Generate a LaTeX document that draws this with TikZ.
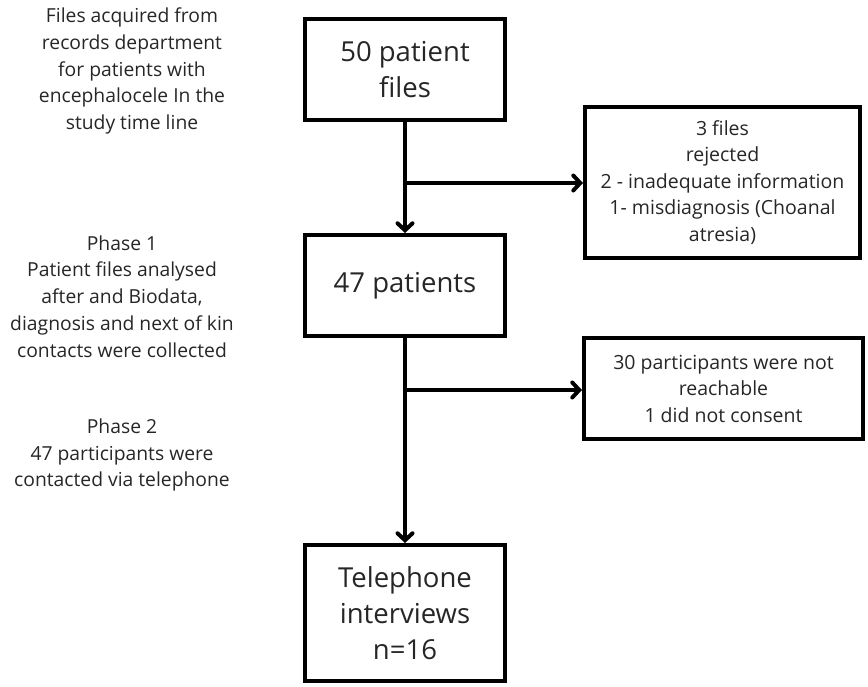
\documentclass[tikz,border=0pt]{standalone}
\usepackage{fontspec}
\setmainfont{Open Sans}
\usetikzlibrary{arrows.meta}
\definecolor{txt}{HTML}{262626}
\begin{document}
\begin{tikzpicture}[x=1pt,y=-1pt,
  box/.style={draw=black,line width=4pt,align=center,inner sep=0pt,text=txt},
  bigtxt/.style={font=\fontsize{27.5}{36}\selectfont},
  smalltxt/.style={font=\fontsize{19.5}{26.5}\selectfont},
  side/.style={align=center,text=txt,font=\fontsize{19.3}{26.8}\selectfont},
  conn/.style={line width=4pt,-{Straight Barb[length=7pt,width=15pt,line cap=round]}},
  trunk/.style={line width=4pt}]
\useasboundingbox (0,0) rectangle (868,686);
\node[box,bigtxt,minimum width=200pt,minimum height=101pt] (b1) at (405,69.5) {50 patient\\files};
\node[box,bigtxt,minimum width=200pt,minimum height=101pt] (b2) at (405,285.5) {47 patients};
\node[box,bigtxt,minimum width=200pt,minimum height=136pt] (b3) at (405,613) {Telephone\\interviews\\n=16};
\node[box,smalltxt,minimum width=275pt,minimum height=151pt] (r1) at (722.5,182.5) {3 files\\rejected\\2 - inadequate information\\1- misdiagnosis (Choanal\\atresia)};
\node[box,smalltxt,minimum width=279pt,minimum height=101pt] (r2) at (723.5,388.5) {30 participants were not\\reachable\\1 did not consent};
\node[side] (s1) at (132,71) {Files acquired from\\records department\\for patients with\\encephalocele In the\\study time line};
\node[side] (s2) at (122,296.5) {Phase 1\\Patient files analysed\\after and Biodata,\\diagnosis and next of kin\\contacts were collected};
\node[side] (s3) at (122,455) {Phase 2\\47 participants were\\contacted via telephone};
\coordinate (j1) at (405,183);
\coordinate (j2) at (405,390);
\draw[conn] (b1.south) -- (b2.north);
\draw[conn] (j1) -- (j1 -| r1.west);
\draw[conn] (b2.south) -- (b3.north);
\draw[conn] (j2) -- (j2 -| r2.west);
\end{tikzpicture}
\end{document}
